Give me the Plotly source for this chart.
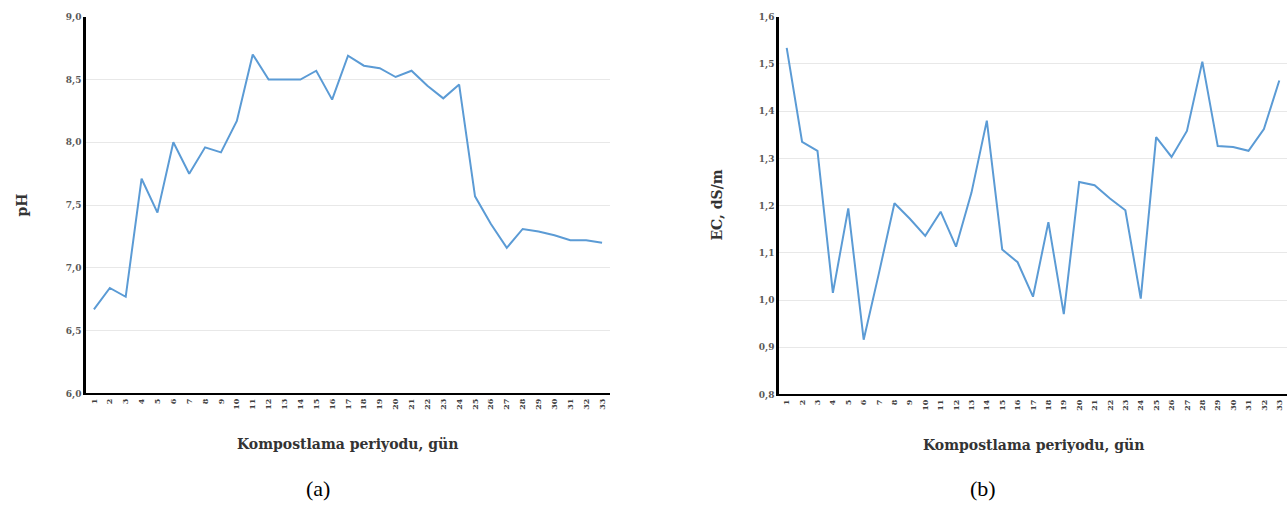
import plotly.graph_objects as go

days = list(range(1, 34))
ph = [6.67, 6.84, 6.77, 7.71, 7.44, 8.00, 7.75, 7.96, 7.92, 8.17, 8.70,
      8.50, 8.50, 8.50, 8.57, 8.34, 8.69, 8.61, 8.59, 8.52, 8.57, 8.45,
      8.35, 8.46, 7.57, 7.35, 7.16, 7.31, 7.29, 7.26, 7.22, 7.22, 7.20]
ec = [1.534, 1.335, 1.316, 1.015, 1.194, 0.916, 1.058, 1.205, 1.172, 1.136, 1.187,
      1.113, 1.227, 1.380, 1.107, 1.080, 1.007, 1.165, 0.970, 1.250, 1.243, 1.215,
      1.190, 1.003, 1.345, 1.303, 1.358, 1.505, 1.326, 1.324, 1.316, 1.362, 1.465]

xlabel = "Kompostlama periyodu, gün"
ylabel_a = "pH"
ylabel_b = "EC, dS/m"
panel_labels = ["(a)", "(b)"]

line_color = "#5B9BD5"
tick_font = dict(family="DejaVu Serif", size=9, color="#595959", weight="bold")
title_font = dict(family="DejaVu Serif", size=14, color="#333333")

fig = go.Figure()
fig.add_trace(go.Scatter(x=days, y=ph, mode="lines", xaxis="x", yaxis="y",
                         line=dict(color=line_color, width=2), showlegend=False))
fig.add_trace(go.Scatter(x=days, y=ec, mode="lines", xaxis="x2", yaxis="y2",
                         line=dict(color=line_color, width=2), showlegend=False))

xcommon = dict(range=[0.5, 33.5], tickmode="array", tickvals=days,
               ticktext=[str(d) for d in days], tickangle=-90,
               tickfont=dict(family="DejaVu Serif", size=8, color="#404040", weight="bold"),
               showgrid=False, showline=True, linecolor="black", linewidth=2,
               zeroline=False, ticks="", fixedrange=True)
ycommon = dict(showgrid=True, gridcolor="#E8E8E8", gridwidth=1, showline=True,
               linecolor="black", linewidth=2.5, zeroline=False, ticks="",
               tickformat=".1f", tickfont=tick_font, fixedrange=True)

fig.update_layout(
    width=1288, height=511,
    margin=dict(l=0, r=0, t=0, b=0),
    paper_bgcolor="white", plot_bgcolor="white",
    separators=", ",
    xaxis=dict(domain=[86/1288, 610/1288], anchor="y", **xcommon),
    yaxis=dict(domain=[1-397/511, 1-12/511], anchor="x", range=[6.0, 9.0], dtick=0.5, **ycommon),
    xaxis2=dict(domain=[779/1288, 1287/1288], anchor="y2", **xcommon),
    yaxis2=dict(domain=[1-398/511, 1-12/511], anchor="x2", range=[0.8, 1.6], dtick=0.1, **ycommon),
)

ann = []
ann.append(dict(text="<b>%s</b>" % xlabel, x=347, y=449, font=title_font))
ann.append(dict(text="<b>%s</b>" % xlabel, x=1033, y=450, font=title_font))
ann.append(dict(text="<b>%s</b>" % ylabel_a, x=22, y=205, font=title_font, textangle=-90))
ann.append(dict(text="<b>%s</b>" % ylabel_b, x=717, y=205, font=title_font, textangle=-90))
ann.append(dict(text=panel_labels[0], x=318, y=494, font=dict(family="Liberation Serif", size=22, color="black")))
ann.append(dict(text=panel_labels[1], x=983, y=494, font=dict(family="Liberation Serif", size=22, color="black")))
for a in ann:
    fig.add_annotation(xref="paper", yref="paper", x=a["x"]/1288, y=1-a["y"]/511,
                       text=a["text"], showarrow=False, font=a["font"],
                       textangle=a.get("textangle", 0), xanchor="center", yanchor="middle")

fig.write_html("out.html")
